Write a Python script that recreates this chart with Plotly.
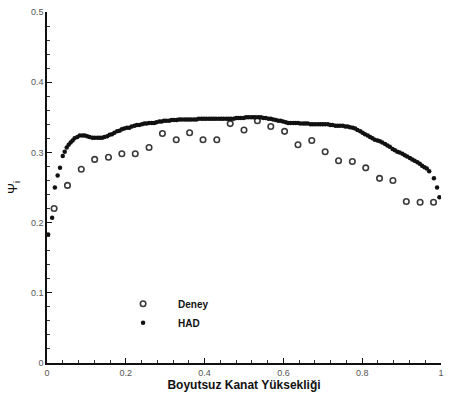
import plotly.graph_objects as go

# Deney (experiment) data
deney_x = [0.018, 0.052, 0.087, 0.121, 0.156, 0.190, 0.224, 0.259, 0.293, 0.328,
           0.362, 0.396, 0.431, 0.465, 0.500, 0.534, 0.568, 0.603, 0.637, 0.672,
           0.706, 0.740, 0.775, 0.809, 0.844, 0.878, 0.912, 0.947, 0.981]
deney_y = [0.220, 0.253, 0.276, 0.290, 0.293, 0.298, 0.298, 0.307, 0.327, 0.318,
           0.328, 0.318, 0.318, 0.341, 0.332, 0.345, 0.337, 0.330, 0.311, 0.317,
           0.301, 0.288, 0.287, 0.278, 0.263, 0.260, 0.230, 0.229, 0.229]

# HAD (CFD) data
had_x = [0.003, 0.013, 0.020, 0.027, 0.033, 0.040, 0.045, 0.050, 0.055, 0.060,
         0.065, 0.070, 0.077, 0.083, 0.090, 0.096, 0.102, 0.108, 0.115, 0.121,
         0.128, 0.134, 0.140, 0.146, 0.153, 0.159, 0.165, 0.171, 0.178, 0.184,
         0.190, 0.196, 0.203, 0.209, 0.215, 0.222, 0.228, 0.234, 0.241, 0.247,
         0.253, 0.259, 0.266, 0.272, 0.278, 0.285, 0.291, 0.297, 0.303, 0.310,
         0.316, 0.322, 0.329, 0.335, 0.341, 0.348, 0.354, 0.360, 0.366, 0.373,
         0.379, 0.385, 0.392, 0.398, 0.404, 0.411, 0.417, 0.423, 0.429, 0.436,
         0.442, 0.448, 0.455, 0.461, 0.467, 0.474, 0.480, 0.486, 0.492, 0.499,
         0.505, 0.511, 0.518, 0.524, 0.530, 0.537, 0.543, 0.549, 0.555, 0.562,
         0.568, 0.574, 0.581, 0.587, 0.593, 0.599, 0.606, 0.612, 0.618, 0.625,
         0.631, 0.637, 0.643, 0.650, 0.656, 0.662, 0.669, 0.675, 0.681, 0.688,
         0.694, 0.700, 0.706, 0.713, 0.719, 0.725, 0.732, 0.738, 0.744, 0.751,
         0.757, 0.763, 0.769, 0.776, 0.782, 0.788, 0.795, 0.801, 0.807, 0.814,
         0.820, 0.826, 0.832, 0.839, 0.845, 0.851, 0.858, 0.864, 0.870, 0.877,
         0.883, 0.889, 0.895, 0.902, 0.908, 0.914, 0.921, 0.927, 0.933, 0.940,
         0.946, 0.952, 0.958, 0.964, 0.970, 0.982, 0.990, 0.996]
had_y = [0.183, 0.207, 0.250, 0.267, 0.278, 0.295, 0.301, 0.307, 0.311, 0.314,
         0.317, 0.320, 0.322, 0.324, 0.324, 0.324, 0.323, 0.322, 0.321, 0.321,
         0.321, 0.321, 0.321, 0.322, 0.323, 0.325, 0.326, 0.328, 0.330, 0.331,
         0.333, 0.334, 0.335, 0.335, 0.337, 0.338, 0.339, 0.339, 0.340, 0.341,
         0.341, 0.342, 0.342, 0.342, 0.343, 0.344, 0.344, 0.345, 0.345, 0.345,
         0.346, 0.346, 0.346, 0.347, 0.347, 0.347, 0.347, 0.347, 0.347, 0.347,
         0.347, 0.348, 0.348, 0.348, 0.348, 0.348, 0.348, 0.348, 0.348, 0.348,
         0.348, 0.348, 0.348, 0.348, 0.348, 0.348, 0.349, 0.349, 0.349, 0.349,
         0.350, 0.350, 0.350, 0.350, 0.350, 0.350, 0.350, 0.349, 0.349, 0.348,
         0.348, 0.347, 0.346, 0.345, 0.345, 0.344, 0.343, 0.342, 0.342, 0.342,
         0.342, 0.342, 0.341, 0.341, 0.341, 0.341, 0.340, 0.340, 0.340, 0.340,
         0.340, 0.340, 0.340, 0.340, 0.339, 0.339, 0.338, 0.338, 0.338, 0.338,
         0.337, 0.337, 0.336, 0.335, 0.334, 0.332, 0.330, 0.328, 0.326, 0.324,
         0.322, 0.320, 0.318, 0.317, 0.316, 0.314, 0.312, 0.310, 0.308, 0.305,
         0.303, 0.301, 0.300, 0.298, 0.296, 0.294, 0.292, 0.290, 0.288, 0.286,
         0.284, 0.281, 0.279, 0.277, 0.273, 0.263, 0.250, 0.236]

x_ticks = [0, 0.2, 0.4, 0.6, 0.8, 1]
x_labels = ["0", "0.2", "0.4", "0.6", "0.8", "1"]
y_ticks = [0, 0.1, 0.2, 0.3, 0.4, 0.5]
y_labels = ["0", "0.1", "0.2", "0.3", "0.4", "0.5"]

fig = go.Figure()
fig.add_trace(go.Scatter(
    x=deney_x, y=deney_y, mode="markers", name="Deney",
    marker=dict(symbol="circle-open", size=5.5, color="#3a3a3a", line=dict(width=1.6, color="#3a3a3a")),
))
fig.add_trace(go.Scatter(
    x=had_x, y=had_y, mode="markers", name="HAD",
    marker=dict(symbol="circle", size=4.5, color="#111111"),
))

axis_font = dict(family="Liberation Sans, Arial, sans-serif", size=9, color="#555555")

fig.update_layout(
    width=451, height=398,
    margin=dict(l=47, r=7, t=11, b=35),
    paper_bgcolor="white", plot_bgcolor="white",
    showlegend=True,
    legend=dict(
        x=0.155, y=0.21, xanchor="left", yanchor="top",
        bgcolor="rgba(0,0,0,0)", itemwidth=60,
        font=dict(family="Liberation Sans, Arial, sans-serif", size=10, color="#111111", weight="bold"),
        tracegroupgap=0, itemsizing="trace",
    ),
    xaxis=dict(
        range=[0, 1], tickvals=x_ticks, ticktext=x_labels,
        showgrid=False, zeroline=False, showline=True, linecolor="#111111", linewidth=1.6,
        ticks="inside", ticklen=5, tickcolor="#111111", tickwidth=1,
        minor=dict(dtick=0.04, ticks="inside", ticklen=3, tickcolor="#333333", showgrid=False),
        tickfont=axis_font,
        title=dict(text="<b>Boyutsuz Kanat Yüksekliği</b>", standoff=2,
                   font=dict(family="Liberation Sans, Arial, sans-serif", size=12, color="#111111")),
    ),
    yaxis=dict(
        range=[0, 0.5], tickvals=y_ticks, ticktext=y_labels,
        showgrid=False, zeroline=False, showline=True, linecolor="#111111", linewidth=1.6,
        ticks="inside", ticklen=5, tickcolor="#111111", tickwidth=1,
        minor=dict(dtick=0.02, ticks="inside", ticklen=3, tickcolor="#333333", showgrid=False),
        tickfont=axis_font,
        title=dict(text="Ψ<sub>i</sub>", standoff=10,
                   font=dict(family="Liberation Sans, Arial, sans-serif", size=13, color="#111111")),
    ),
)

fig.write_html("out.html")
